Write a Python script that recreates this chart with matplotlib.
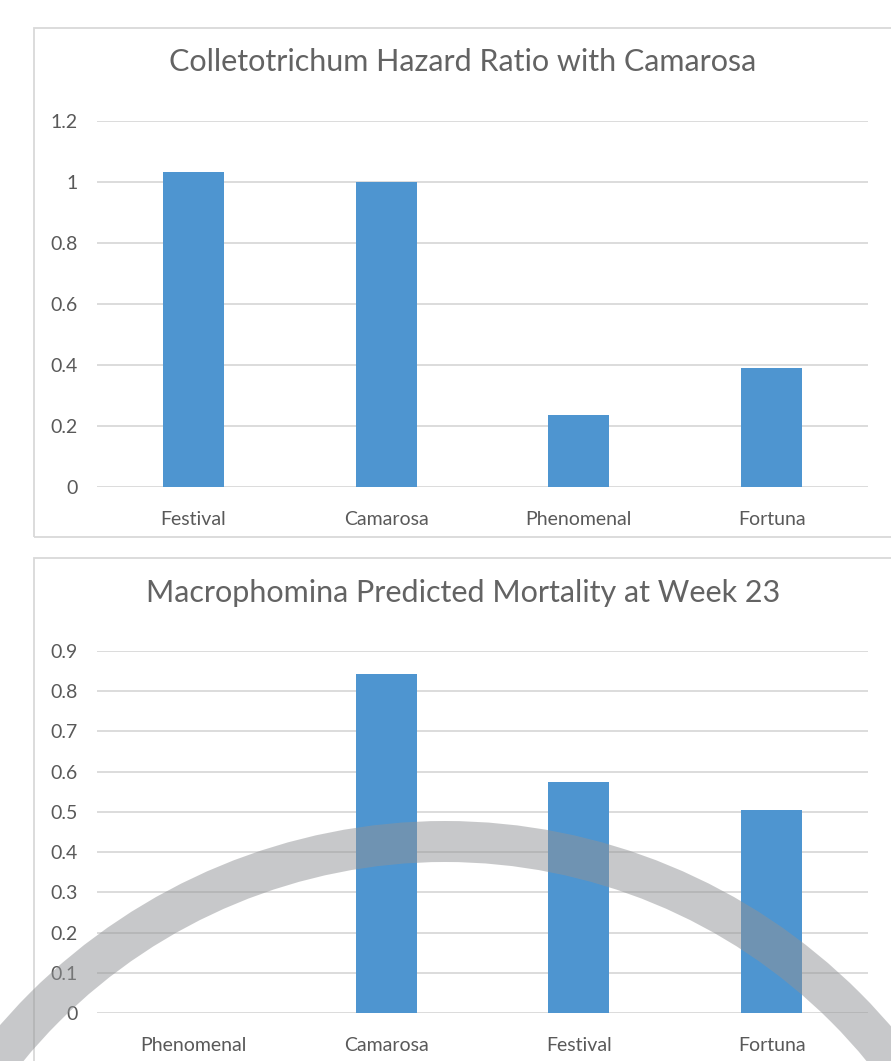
import numpy as np
import matplotlib
matplotlib.use("Agg")
from matplotlib import pyplot as plt
from matplotlib.patches import Rectangle, Wedge
from matplotlib.ticker import FuncFormatter

top_title = "Colletotrichum Hazard Ratio with Camarosa"
top_categories = ["Festival", "Camarosa", "Phenomenal", "Fortuna"]
top_values = [1.033, 1.0, 0.236, 0.39]
top_ticks = [0, 0.2, 0.4, 0.6, 0.8, 1.0, 1.2]

bottom_title = "Macrophomina Predicted Mortality at Week 23"
bottom_categories = ["Phenomenal", "Camarosa", "Festival", "Fortuna"]
bottom_values = [0.0, 0.843, 0.575, 0.505]
bottom_ticks = [0, 0.1, 0.2, 0.3, 0.4, 0.5, 0.6, 0.7, 0.8, 0.9]

bar_color = "#4E95D0"
grid_color = "#D9D9D9"
text_color = "#595959"

plt.rcParams["font.family"] = ["Lato", "DejaVu Sans"]

W, H = 891, 1061
fig = plt.figure(figsize=(W / 100, H / 100), dpi=100)
fig.patch.set_facecolor("white")


def px(x0, y_top, x1, y_bot):
    # pixel box -> figure fraction rect
    return [x0 / W, 1 - y_bot / H, (x1 - x0) / W, (y_bot - y_top) / H]


def draw_chart(rect, cats, vals, ticks, ymax):
    ax = fig.add_axes(rect)
    x = np.arange(len(cats))
    ax.bar(x, vals, width=0.316, color=bar_color, zorder=3)
    ax.set_xlim(-0.5, len(cats) - 0.5)
    ax.set_ylim(0, ymax)
    ax.set_yticks(ticks)
    ax.yaxis.set_major_formatter(FuncFormatter(lambda v, p: f"{v:g}"))
    ax.set_xticks(x)
    ax.set_xticklabels(cats)
    ax.grid(axis="y", color=grid_color, linewidth=1.3, zorder=0)
    for s in ax.spines.values():
        s.set_visible(False)
    ax.tick_params(axis="both", length=0, labelsize=14, labelcolor=text_color)
    ax.tick_params(axis="y", pad=14)
    ax.tick_params(axis="x", pad=17)
    ax.set_facecolor("none")
    return ax


# chart frames
fig.add_artist(Rectangle((34 / W, 1 - 537 / H), 1, (537 - 28) / H,
                         transform=fig.transFigure, fill=False,
                         edgecolor=grid_color, linewidth=1.3))
fig.add_artist(Rectangle((34 / W, -0.1), 1, 0.1 + (1 - 558 / H),
                         transform=fig.transFigure, fill=False,
                         edgecolor=grid_color, linewidth=1.3))

draw_chart(px(97, 121, 868, 487), top_categories, top_values, top_ticks, 1.2)
draw_chart(px(97, 651, 868, 1013), bottom_categories, bottom_values, bottom_ticks, 0.9)

fig.text(463 / W, 1 - 62 / H, top_title, ha="center", va="center",
         fontsize=22, color="#636363")
fig.text(463 / W, 1 - 593 / H, bottom_title, ha="center", va="center",
         fontsize=22, color="#636363")

# gray arc overlay
arc = Wedge((4.45, (H - 1408) / 100), 5.87, 0, 180, width=0.41,
            transform=fig.dpi_scale_trans, facecolor="#919396",
            edgecolor="none", alpha=0.5, zorder=10)
fig.add_artist(arc)

fig.savefig("out.png", dpi=100)
